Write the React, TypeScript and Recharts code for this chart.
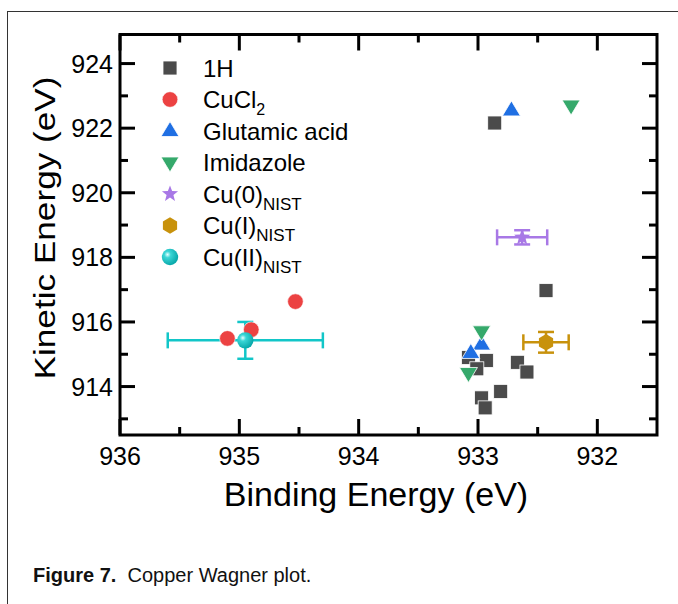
import React from 'react'
import { ScatterChart, Scatter, XAxis, YAxis, ErrorBar, ReferenceArea } from 'recharts'

const W = 678
const H = 604
const LEFT = 120
const RIGHT = 657
const TOP = 34.5
const BOTTOM = 435
const AXIS_W = 60
const AXIS_H = 60
const FONT = '"Liberation Sans", Arial, Helvetica, sans-serif'

const xDomain = [931.5, 936]
const yDomain = [912.5, 924.9]
const xTicks = [936, 935.5, 935, 934.5, 934, 933.5, 933, 932.5, 932]
const yTicks = [913, 914, 915, 916, 917, 918, 919, 920, 921, 922, 923, 924]

// binding energy / kinetic energy pairs per sample
const h1BE = [932.86, 932.43, 933.08, 932.93, 933.01, 932.67, 932.59, 932.81, 932.97, 932.94]
const h1KE = [922.16, 916.97, 914.9, 914.81, 914.55, 914.75, 914.45, 913.85, 913.65, 913.34]
const cuclBE = [935.1, 934.9, 934.53]
const cuclKE = [915.49, 915.76, 916.63]
const gluBE = [932.72, 932.97, 933.06]
const gluKE = [922.55, 915.3, 915.04]
const imiBE = [932.22, 932.97, 933.08]
const imiKE = [922.7, 915.71, 914.42]

// NIST reference values with uncertainties
const cu0 = { be: 932.63, ke: 918.62, ebe: 0.21, eke: 0.22 }
const cu1 = { be: 932.43, ke: 915.37, ebe: 0.19, eke: 0.32 }
const cu2 = { be: 934.95, ke: 915.43, ebe: 0.65, eke: 0.57 }

const C = {
  h1: '#4b4b4b',
  cucl: '#ec4242',
  glu: '#1f6fe3',
  imi: '#35a96b',
  cu0: '#a878e6',
  cu1: '#c8920c',
  cu2: '#12c6c8',
}

const pts = (be: number[], ke: number[]) => be.map((x, i) => ({ x, y: ke[i] }))
const nist = (d: typeof cu0) => [{ x: d.be, y: d.ke, ex: d.ebe, ey: d.eke }]

function Square({ cx, cy }: any) {
  return <rect x={cx - 7} y={cy - 7} width={14} height={14} fill={C.h1} stroke="#fff" strokeWidth={0.8} />
}
function Dot({ cx, cy }: any) {
  return <circle cx={cx} cy={cy} r={7.8} fill={C.cucl} stroke="#fff" strokeWidth={0.6} />
}
function TriUp({ cx, cy, fill = C.glu }: any) {
  return <polygon points={`${cx},${cy - 9.5} ${cx + 9},${cy + 5.5} ${cx - 9},${cy + 5.5}`} fill={fill} stroke="#fff" strokeWidth={0.8} />
}
function TriDown({ cx, cy, fill = C.imi }: any) {
  return <polygon points={`${cx - 9},${cy - 5.5} ${cx + 9},${cy - 5.5} ${cx},${cy + 9.5}`} fill={fill} stroke="#fff" strokeWidth={0.8} />
}
function Star({ cx, cy }: any) {
  const p: string[] = []
  for (let i = 0; i < 10; i++) {
    const r = i % 2 === 0 ? 8.5 : 3.6
    const a = -Math.PI / 2 + (i * Math.PI) / 5
    p.push(`${cx + r * Math.cos(a)},${cy + r * Math.sin(a)}`)
  }
  return <polygon points={p.join(' ')} fill={C.cu0} />
}
function Hex({ cx, cy }: any) {
  const p: string[] = []
  for (let i = 0; i < 6; i++) {
    const a = -Math.PI / 2 + (i * Math.PI) / 3
    p.push(`${cx + 8.2 * Math.cos(a)},${cy + 8.2 * Math.sin(a)}`)
  }
  return <polygon points={p.join(' ')} fill={C.cu1} />
}
function Ball({ cx, cy, id = 'ball' }: any) {
  return (
    <g>
      <defs>
        <radialGradient id={id} cx="35%" cy="35%" r="65%">
          <stop offset="0%" stopColor="#e8ffff" />
          <stop offset="30%" stopColor="#3ad6d6" />
          <stop offset="100%" stopColor="#0aa9ab" />
        </radialGradient>
      </defs>
      <circle cx={cx} cy={cy} r={8.2} fill={`url(#${id})`} />
    </g>
  )
}

// inward ticks on bottom and top, labels on the integers
const renderXTick = (props: any) => {
  const { x, payload } = props
  const v = payload.value
  const major = Number.isInteger(v)
  const len = major ? 16 : 8
  return (
    <g key={`xt-${v}`}>
      <line x1={x} x2={x} y1={BOTTOM} y2={BOTTOM - len} stroke="#000" strokeWidth={3} />
      <line x1={x} x2={x} y1={TOP} y2={TOP + len} stroke="#000" strokeWidth={3} />
      {major && (
        <text x={x} y={BOTTOM + 30} textAnchor="middle" fontSize={25} fontFamily={FONT} fill="#000">
          {v}
        </text>
      )}
    </g>
  )
}

// inward ticks on left and right, labels on the even values
const renderYTick = (props: any) => {
  const { y, payload } = props
  const v = payload.value
  const major = v % 2 === 0
  const len = major ? 15 : 8
  return (
    <g key={`yt-${v}`}>
      <line x1={LEFT} x2={LEFT + len} y1={y} y2={y} stroke="#000" strokeWidth={3} />
      <line x1={RIGHT} x2={RIGHT - len} y1={y} y2={y} stroke="#000" strokeWidth={3} />
      {major && (
        <text x={LEFT - 7} y={y + 9} textAnchor="end" fontSize={25} fontFamily={FONT} fill="#000">
          {v}
        </text>
      )}
    </g>
  )
}

const legendItems = [
  { name: '1H', sub: '', sym: (cx: number, cy: number) => <Square cx={cx} cy={cy} /> },
  { name: 'CuCl', sub: '2', sym: (cx: number, cy: number) => <Dot cx={cx} cy={cy} /> },
  { name: 'Glutamic acid', sub: '', sym: (cx: number, cy: number) => <TriUp cx={cx} cy={cy} /> },
  { name: 'Imidazole', sub: '', sym: (cx: number, cy: number) => <TriDown cx={cx} cy={cy} /> },
  { name: 'Cu(0)', sub: 'NIST', sym: (cx: number, cy: number) => <Star cx={cx} cy={cy} /> },
  { name: 'Cu(I)', sub: 'NIST', sym: (cx: number, cy: number) => <Hex cx={cx} cy={cy} /> },
  { name: 'Cu(II)', sub: 'NIST', sym: (cx: number, cy: number) => <Ball cx={cx} cy={cy} id="ballLegend" /> },
]

export default function App() {
  return (
    <div style={{ position: 'absolute', left: 0, top: 0, width: W, height: H, overflow: 'hidden', background: '#fff' }}>
      <div
        style={{
          position: 'absolute',
          left: 7,
          top: 11,
          width: 720,
          height: 640,
          borderLeft: '1.5px solid #333',
          borderTop: '1.5px solid #333',
        }}
      />
      <div style={{ position: 'absolute', left: 0, top: 0 }}>
        <ScatterChart
          width={W}
          height={H}
          margin={{ top: TOP, right: W - RIGHT, bottom: H - BOTTOM - AXIS_H, left: LEFT - AXIS_W }}
        >
          <XAxis
            type="number"
            dataKey="x"
            domain={xDomain}
            reversed
            ticks={xTicks}
            interval={0}
            height={AXIS_H}
            axisLine={false}
            tickLine={false}
            tick={renderXTick}
            allowDataOverflow
          />
          <YAxis
            type="number"
            dataKey="y"
            domain={yDomain}
            ticks={yTicks}
            interval={0}
            width={AXIS_W}
            axisLine={false}
            tickLine={false}
            tick={renderYTick}
            allowDataOverflow
          />
          <ReferenceArea
            x1={xDomain[1]}
            x2={xDomain[0]}
            y1={yDomain[0]}
            y2={yDomain[1]}
            fill="none"
            stroke="#000"
            strokeWidth={3}
            ifOverflow="visible"
          />
          <Scatter data={pts(h1BE, h1KE)} shape={(p: any) => <Square cx={p.cx} cy={p.cy} />} isAnimationActive={false} />
          <Scatter data={pts(cuclBE, cuclKE)} shape={(p: any) => <Dot cx={p.cx} cy={p.cy} />} isAnimationActive={false} />
          <Scatter data={pts(gluBE, gluKE)} shape={(p: any) => <TriUp cx={p.cx} cy={p.cy} />} isAnimationActive={false} />
          <Scatter data={pts(imiBE, imiKE)} shape={(p: any) => <TriDown cx={p.cx} cy={p.cy} />} isAnimationActive={false} />
          <Scatter data={nist(cu0)} shape={(p: any) => <Star cx={p.cx} cy={p.cy} />} isAnimationActive={false}>
            <ErrorBar dataKey="ex" direction="x" width={8} stroke={C.cu0} strokeWidth={2.5} />
            <ErrorBar dataKey="ey" direction="y" width={8} stroke={C.cu0} strokeWidth={2.5} />
          </Scatter>
          <Scatter data={nist(cu1)} shape={(p: any) => <Hex cx={p.cx} cy={p.cy} />} isAnimationActive={false}>
            <ErrorBar dataKey="ex" direction="x" width={8} stroke={C.cu1} strokeWidth={2.5} />
            <ErrorBar dataKey="ey" direction="y" width={8} stroke={C.cu1} strokeWidth={2.5} />
          </Scatter>
          <Scatter data={nist(cu2)} shape={(p: any) => <Ball cx={p.cx} cy={p.cy} />} isAnimationActive={false}>
            <ErrorBar dataKey="ex" direction="x" width={8} stroke={C.cu2} strokeWidth={2.5} />
            <ErrorBar dataKey="ey" direction="y" width={8} stroke={C.cu2} strokeWidth={2.5} />
          </Scatter>
        </ScatterChart>
      </div>
      <svg width={W} height={H} style={{ position: 'absolute', left: 0, top: 0, pointerEvents: 'none' }}>
        <text
          transform={`translate(55, 228) rotate(-90)`}
          textAnchor="middle"
          fontSize={29}
          fontFamily={FONT}
          textLength={303}
          lengthAdjust="spacingAndGlyphs"
        >
          Kinetic Energy (eV)
        </text>
        <text x={376} y={506} textAnchor="middle" fontSize={34} fontFamily={FONT}>
          Binding Energy (eV)
        </text>
        {legendItems.map((it, i) => {
          const cy = 68 + i * 31.5
          return (
            <g key={it.name}>
              {it.sym(170, cy)}
              <text x={203} y={cy + 8.5} fontSize={24} fontFamily={FONT}>
                {it.name}
                {it.sub && (
                  <tspan dy={7} fontSize={it.sub === '2' ? 16 : 17}>
                    {it.sub}
                  </tspan>
                )}
              </text>
            </g>
          )
        })}
      </svg>
      <div
        style={{
          position: 'absolute',
          left: 33,
          top: 564,
          fontFamily: FONT,
          fontSize: 20,
          color: '#111',
          whiteSpace: 'nowrap',
        }}
      >
        <b>Figure 7.</b>&nbsp;&nbsp;Copper Wagner plot.
      </div>
    </div>
  )
}
